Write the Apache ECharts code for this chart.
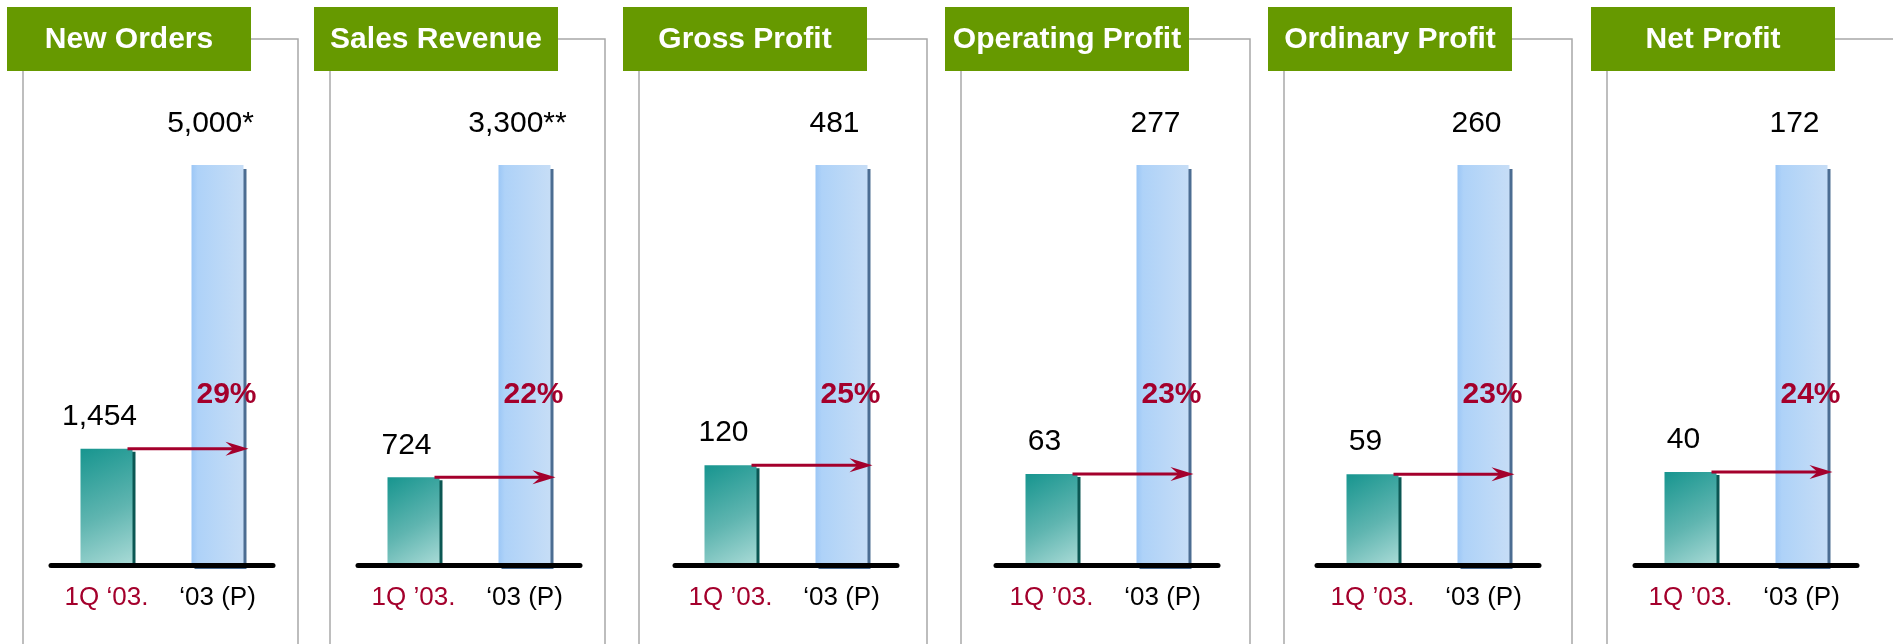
<!DOCTYPE html>
<html>
<head>
<meta charset="utf-8">
<script src="https://cdn.jsdelivr.net/npm/echarts@6/dist/echarts.min.js"></script>
<style>
	html, body { margin: 0; padding: 0; background: #fff; }
	#chart { width: 1893px; height: 644px; }
</style>
</head>
<body>
<div id="chart"></div>
<script type="text/javascript">
    // data
    var titles = ['New Orders', 'Sales Revenue', 'Gross Profit', 'Operating Profit', 'Ordinary Profit', 'Net Profit'];
    var firstQuarter = [1454, 724, 120, 63, 59, 40];
    var yearPlan = [5000, 3300, 481, 277, 260, 172];
    var planMarks = ['*', '**', '', '', '', ''];
    var growth = ['29%', '22%', '25%', '23%', '23%', '24%'];
    var qLabels = ['1Q \u201803.', '1Q \u201903.', '1Q \u201903.', '1Q \u201903.', '1Q \u201903.', '1Q \u201903.'];
    var yLabel = '\u201803 (P)';

    // panel layout (pixels)
    var headerX = [7, 314, 623, 945, 1268, 1591];
    var frameRight = [298, 605, 927, 1250, 1572, 1900];
    var axisLeft = [51, 358, 675, 996, 1317, 1635];
    var axisWidth = 222;

    var FONT = '"Liberation Sans", Arial, sans-serif';
    var RED = '#a4002c';
    var GREEN = '#669900';
    var LINE = '#a8a8a8';

    function fmt(v) {
        return v.toString().replace(/\B(?=(\d{3})+(?!\d))/g, ',');
    }

    var grids = [], xAxes = [], yAxes = [], series = [], graphics = [];

    titles.forEach(function (title, i) {
        var hx = headerX[i];
        // frame
        graphics.push({
            type: 'polyline', silent: true,
            shape: { points: [[hx + 244, 39], [frameRight[i], 39], [frameRight[i], 650]] },
            style: { stroke: LINE, lineWidth: 1.5, fill: null }
        });
        graphics.push({
            type: 'line', silent: true,
            shape: { x1: hx + 16, y1: 71, x2: hx + 16, y2: 650 },
            style: { stroke: LINE, lineWidth: 1.5 }
        });
        // header box
        graphics.push({
            type: 'rect', silent: true,
            shape: { x: hx, y: 7, width: 244, height: 64 },
            style: { fill: GREEN }
        });
        graphics.push({
            type: 'text', silent: true,
            x: hx + 122, y: 40,
            style: {
                text: title, fill: '#fff', font: 'bold 30px ' + FONT,
                align: 'center', verticalAlign: 'middle'
            }
        });

        grids.push({ left: axisLeft[i], width: axisWidth, top: 165, bottom: 79 });
        xAxes.push({
            type: 'category', gridIndex: i, z: 5,
            data: [qLabels[i], yLabel],
            axisTick: { show: false },
            axisLine: { lineStyle: { color: '#000', width: 5 } },
            axisLabel: {
                margin: 20,
                formatter: function (v, idx) { return idx === 0 ? '{q|' + v + '}' : '{p|' + v + '}'; },
                rich: {
                    q: { color: RED, fontSize: 26, fontFamily: FONT },
                    p: { color: '#000', fontSize: 26, fontFamily: FONT }
                }
            }
        });
        yAxes.push({
            type: 'value', gridIndex: i, min: 0, max: yearPlan[i], show: false
        });

        series.push({
            type: 'bar', xAxisIndex: i, yAxisIndex: i, barWidth: 52,
            label: {
                show: true, position: 'top', offset: [-7, 0],
                fontSize: 30, fontFamily: FONT, color: '#000'
            },
            data: [
                {
                    value: firstQuarter[i],
                    label: { distance: 17, formatter: fmt(firstQuarter[i]) },
                    itemStyle: {
                        color: new echarts.graphic.LinearGradient(0, 0, 1, 1, [
                            { offset: 0, color: '#17958f' },
                            { offset: 0.55, color: '#5fb5b0' },
                            { offset: 1, color: '#aadbd7' }
                        ]),
                        shadowColor: '#0b5753', shadowOffsetX: 3, shadowOffsetY: 3, shadowBlur: 0
                    }
                },
                {
                    value: yearPlan[i],
                    label: { distance: 26, formatter: fmt(yearPlan[i]) + planMarks[i] },
                    itemStyle: {
                        color: new echarts.graphic.LinearGradient(0, 0, 1, 0, [
                            { offset: 0, color: '#9cc7f6' },
                            { offset: 0.12, color: '#aed2f8' },
                            { offset: 1, color: '#c6ddf6' }
                        ]),
                        shadowColor: '#4c6d92', shadowOffsetX: 3, shadowOffsetY: 4, shadowBlur: 0
                    }
                }
            ]
        });

        // growth arrow and share label
        series.push({
            type: 'custom', xAxisIndex: i, yAxisIndex: i, z: 10, silent: true,
            data: [[0, firstQuarter[i]]],
            renderItem: function (params, api) {
                var p0 = api.coord([0, api.value(1)]);
                var p1 = api.coord([1, api.value(1)]);
                var y = p0[1];
                var x0 = p0[0] + 21;
                var x1 = p1[0] + 31;
                return {
                    type: 'group',
                    children: [
                        { type: 'line', shape: { x1: x0, y1: y, x2: x1 - 12, y2: y }, style: { stroke: RED, lineWidth: 3 } },
                        { type: 'polygon', shape: { points: [[x1, y], [x1 - 23, y - 7], [x1 - 15, y], [x1 - 23, y + 7]] }, style: { fill: RED } },
                        {
                            type: 'text', x: p1[0] + 9, y: 395,
                            style: {
                                text: growth[i], fill: RED, font: 'bold 30px ' + FONT,
                                align: 'center', verticalAlign: 'middle'
                            }
                        }
                    ]
                };
            }
        });
    });

    var myChart = echarts.init(document.getElementById('chart'), null, { renderer: 'canvas' });
    myChart.setOption({
        animation: false,
        backgroundColor: '#fff',
        grid: grids,
        xAxis: xAxes,
        yAxis: yAxes,
        series: series,
        graphic: graphics
    });
</script>
</body>
</html>
